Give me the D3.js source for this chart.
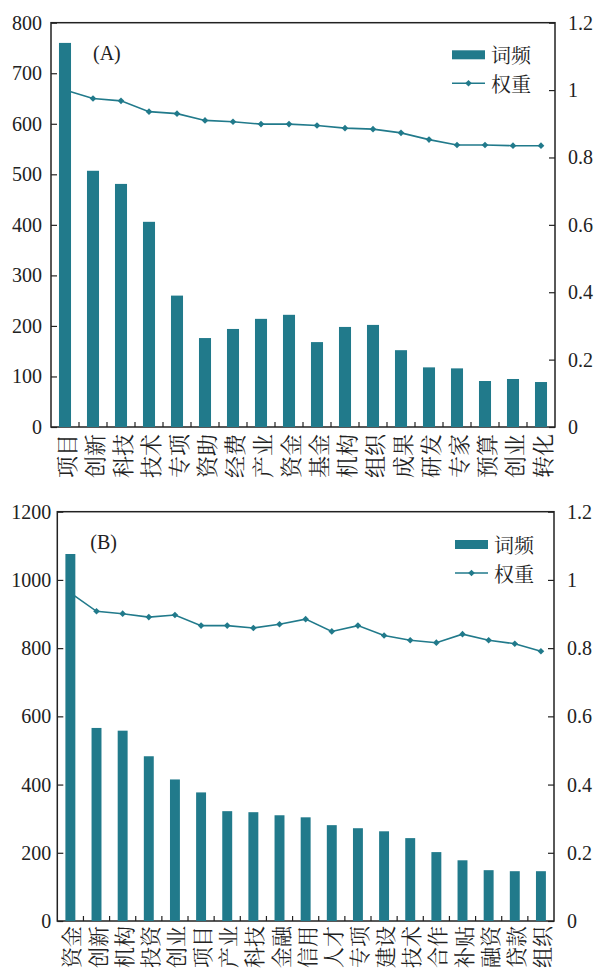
<!DOCTYPE html>
<html>
<head>
<meta charset="utf-8">
<script src="https://cdn.jsdelivr.net/npm/d3@7"></script>
<style>
  body { margin:0; background:#fff; }
  svg text { font-family: "Liberation Serif", "DejaVu Serif", serif; fill:#222; }
  .cat { font-family: "Noto Serif CJK SC", "Noto Sans CJK SC", sans-serif !important; }
</style>
</head>
<body>
<svg id="Vis" width="596" height="970"></svg>
<script>

// panel A
var catsA = ["项目","创新","科技","技术","专项","资助","经费","产业","资金","基金","机构","组织","成果","研发","专家","预算","创业","转化"];
var freqA = [760,507,481,406,260,176,194,214,222,168,198,202,152,118,116,91,95,89];
var weightA = [1.0,0.975,0.968,0.936,0.930,0.910,0.906,0.899,0.899,0.895,0.887,0.884,0.873,0.853,0.837,0.837,0.835,0.835];
var leftTicksA = [0,100,200,300,400,500,600,700,800];

// panel B
var catsB = ["资金","创新","机构","投资","创业","项目","产业","科技","金融","信用","人才","专项","建设","技术","合作","补贴","融资","贷款","组织"];
var freqB = [1076,566,558,483,415,377,322,319,310,304,281,272,263,243,202,178,149,146,146];
var weightB = [0.962,0.908,0.901,0.891,0.897,0.866,0.866,0.859,0.870,0.885,0.849,0.866,0.837,0.823,0.816,0.841,0.823,0.813,0.791];
var leftTicksB = [0,200,400,600,800,1000,1200];

var rightTicks = [0,0.2,0.4,0.6,0.8,1,1.2];
var legendNames = ["词频","权重"];

var color = "#217a8b";

function drawPanel(box, cats, freq, weight, leftTicks, panelName, legendX, legendY){
  var svg = d3.select("#Vis");
  var g = svg.append("g").attr("class","panel");

  var x = d3.scaleBand().domain(cats).range([box.left, box.right])
      .paddingInner(box.pad).paddingOuter(box.pad/2);
  var yL = d3.scaleLinear().domain([0, leftTicks[leftTicks.length-1]]).range([box.bottom, box.top]);
  var yR = d3.scaleLinear().domain([0, 1.2]).range([box.bottom, box.top]);

  // frame
  g.append("rect")
    .attr("x", box.left).attr("y", box.top)
    .attr("width", box.right-box.left).attr("height", box.bottom-box.top)
    .attr("fill","none").attr("stroke","#222").attr("stroke-width",1.5);

  // left axis, inward ticks
  var axL = g.append("g").attr("transform","translate("+box.left+",0)")
    .call(d3.axisRight(yL).tickValues(leftTicks).tickSize(6).tickFormat(""));
  axL.select(".domain").remove();
  axL.selectAll("line").attr("stroke","#222").attr("stroke-width",1.2);
  g.selectAll(".ltxt").data(leftTicks).enter().append("text")
    .attr("x", box.left-box.lpad).attr("y", function(d){ return yL(d); })
    .attr("text-anchor","end").attr("dominant-baseline","central")
    .style("font-size","20px").text(function(d){ return d; });

  // right axis
  var axR = g.append("g").attr("transform","translate("+box.right+",0)")
    .call(d3.axisLeft(yR).tickValues(rightTicks).tickSize(6).tickFormat(""));
  axR.select(".domain").remove();
  axR.selectAll("line").attr("stroke","#222").attr("stroke-width",1.2);
  g.selectAll(".rtxt").data(rightTicks).enter().append("text")
    .attr("x", box.right+13).attr("y", function(d){ return yR(d); })
    .attr("text-anchor","start").attr("dominant-baseline","central")
    .style("font-size","20px").text(function(d){ return +d.toFixed(1); });

  // bottom ticks between bars
  var step = x.step();
  var bt = d3.range(1, cats.length);
  g.selectAll(".btick").data(bt).enter().append("line")
    .attr("x1", function(i){ return box.left + step*i; })
    .attr("x2", function(i){ return box.left + step*i; })
    .attr("y1", box.bottom).attr("y2", box.bottom-5)
    .attr("stroke","#222").attr("stroke-width",1.2);

  // category labels
  g.selectAll(".cat").data(cats).enter().append("text")
    .attr("class","cat")
    .attr("transform", function(d){ return "translate("+(x(d)+x.bandwidth()/2)+","+(box.bottom+box.catDy)+") rotate(-90)"; })
    .attr("text-anchor","end").attr("dominant-baseline","central")
    .style("font-size", box.catSize+"px").text(function(d){ return d; });

  // weight line (behind bars)
  var line = d3.line()
    .x(function(d,i){ return x(cats[i])+x.bandwidth()/2; })
    .y(function(d){ return yR(d); });
  g.append("path").datum(weight)
    .attr("d", line).attr("fill","none").attr("stroke",color).attr("stroke-width",1.6);
  var sym = d3.symbol().type(d3.symbolSquare).size(22);
  g.selectAll(".pt").data(weight).enter().append("path")
    .attr("d", sym)
    .attr("transform", function(d,i){ return "translate("+(x(cats[i])+x.bandwidth()/2)+","+yR(d)+") rotate(45)"; })
    .attr("fill",color);

  // bars
  g.selectAll(".bar").data(freq).enter().append("rect")
    .attr("x", function(d,i){ return x(cats[i]); })
    .attr("y", function(d){ return yL(d); })
    .attr("width", x.bandwidth())
    .attr("height", function(d){ return box.bottom - yL(d); })
    .attr("fill", color);

  // panel label
  g.append("text").attr("x", box.left+box.labelDx).attr("y", box.top+30)
    .attr("dominant-baseline","central").style("font-size","20px").text(panelName);

  // legend
  var lg = g.append("g");
  lg.append("rect").attr("x",legendX).attr("y",legendY-4.5).attr("width",33).attr("height",9).attr("fill",color);
  lg.append("line").attr("x1",legendX).attr("x2",legendX+33)
    .attr("y1",legendY+28.5).attr("y2",legendY+28.5).attr("stroke",color).attr("stroke-width",1.6);
  lg.append("path").attr("d",sym)
    .attr("transform","translate("+(legendX+16.5)+","+(legendY+28.5)+") rotate(45)").attr("fill",color);
  lg.selectAll(".lt").data(legendNames).enter().append("text")
    .attr("class","cat")
    .attr("x", legendX+39).attr("y", function(d,i){ return legendY + i*28.5; })
    .attr("dominant-baseline","central").style("font-size","20px").text(function(d){ return d; });
}

drawPanel({left:51, right:555, top:22.7, bottom:427, pad:0.57, lpad:9, labelDx:42, catDy:7, catSize:22}, catsA, freqA, weightA, leftTicksA, "(A)", 452, 54.8);
drawPanel({left:57.3, right:554, top:511.7, bottom:921, pad:0.62, lpad:6, labelDx:33, catDy:5, catSize:21}, catsB, freqB, weightB, leftTicksB, "(B)", 455, 544.5);

</script>
</body>
</html>
